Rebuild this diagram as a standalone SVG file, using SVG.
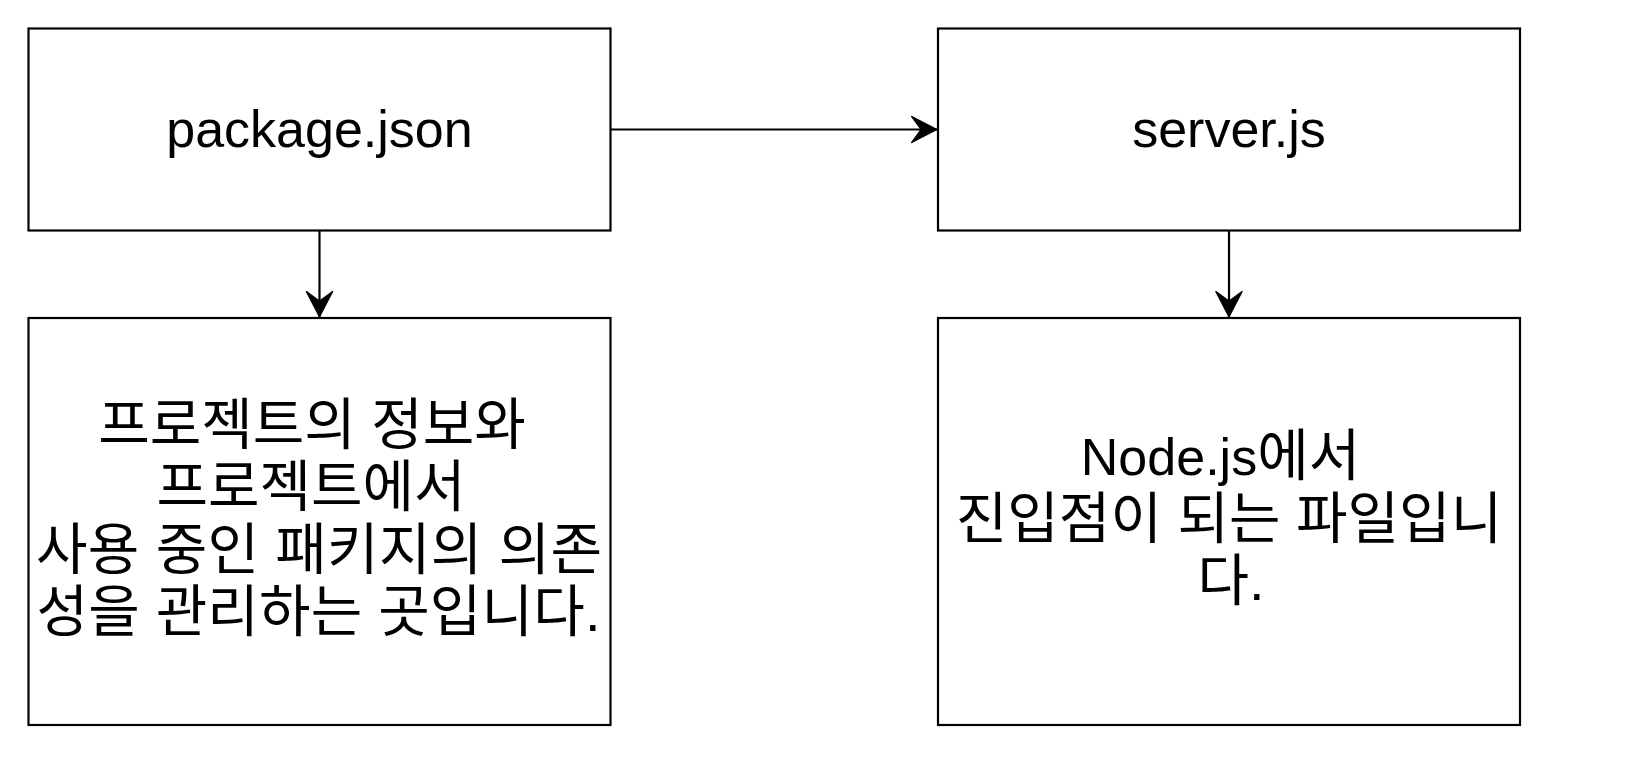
<svg xmlns="http://www.w3.org/2000/svg" width="1645" height="767" viewBox="0 0 1645 767">
<style>
.box{fill:#ffffff;stroke:#000000;stroke-width:2.2}
.edge{fill:none;stroke:#000000;stroke-width:2.2}
.t{font-family:"Liberation Sans","Noto Sans CJK KR",Arial,sans-serif;font-size:52px;fill:#000000;text-anchor:middle}
.k{font-size:56px}
</style>
<defs>
<marker id="arrow" markerUnits="userSpaceOnUse" markerWidth="30" markerHeight="30" viewBox="-26 -14 28 28" refX="0" refY="0" orient="auto">
<path d="M0,0 L-24,-12.5 L-15,0 L-24,12.5 Z" fill="#000000" stroke="#000000" stroke-width="1"/>
</marker>
</defs>
<rect x="0" y="0" width="1645" height="767" fill="#ffffff"/>
<g id="connectors">
<line class="edge" x1="611" y1="129.5" x2="937" y2="129.5" marker-end="url(#arrow)"/>
<line class="edge" x1="319.5" y1="231" x2="319.5" y2="317" marker-end="url(#arrow)"/>
<line class="edge" x1="1229" y1="231" x2="1229" y2="317" marker-end="url(#arrow)"/>
</g>
<g id="node-package">
<rect class="box" x="28.5" y="28.5" width="582" height="202"/>
<text class="t" x="319.5" y="147">package.json</text>
</g>
<g id="node-server">
<rect class="box" x="938" y="28.5" width="582" height="202"/>
<text class="t" x="1229" y="147">server.js</text>
</g>
<g id="node-package-desc">
<rect class="box" x="28.5" y="318" width="582" height="407"/>
<text class="t k" x="312" y="443.5">프로젝트의 정보와</text>
<text class="t k" x="311" y="506">프로젝트에서</text>
<text class="t k" x="319" y="568.5" textLength="566" lengthAdjust="spacing">사용 중인 패키지의 의존</text>
<text class="t k" x="318.5" y="631" textLength="564" lengthAdjust="spacing">성을 관리하는 곳입니다.</text>
</g>
<g id="node-server-desc">
<rect class="box" x="938" y="318" width="582" height="407"/>
<text class="t" x="1220.5" y="475">Node.js<tspan class="k">에서</tspan></text>
<text class="t k" x="1229" y="537.5">진입점이 되는 파일입니</text>
<text class="t k" x="1231" y="600">다.</text>
</g>
</svg>
